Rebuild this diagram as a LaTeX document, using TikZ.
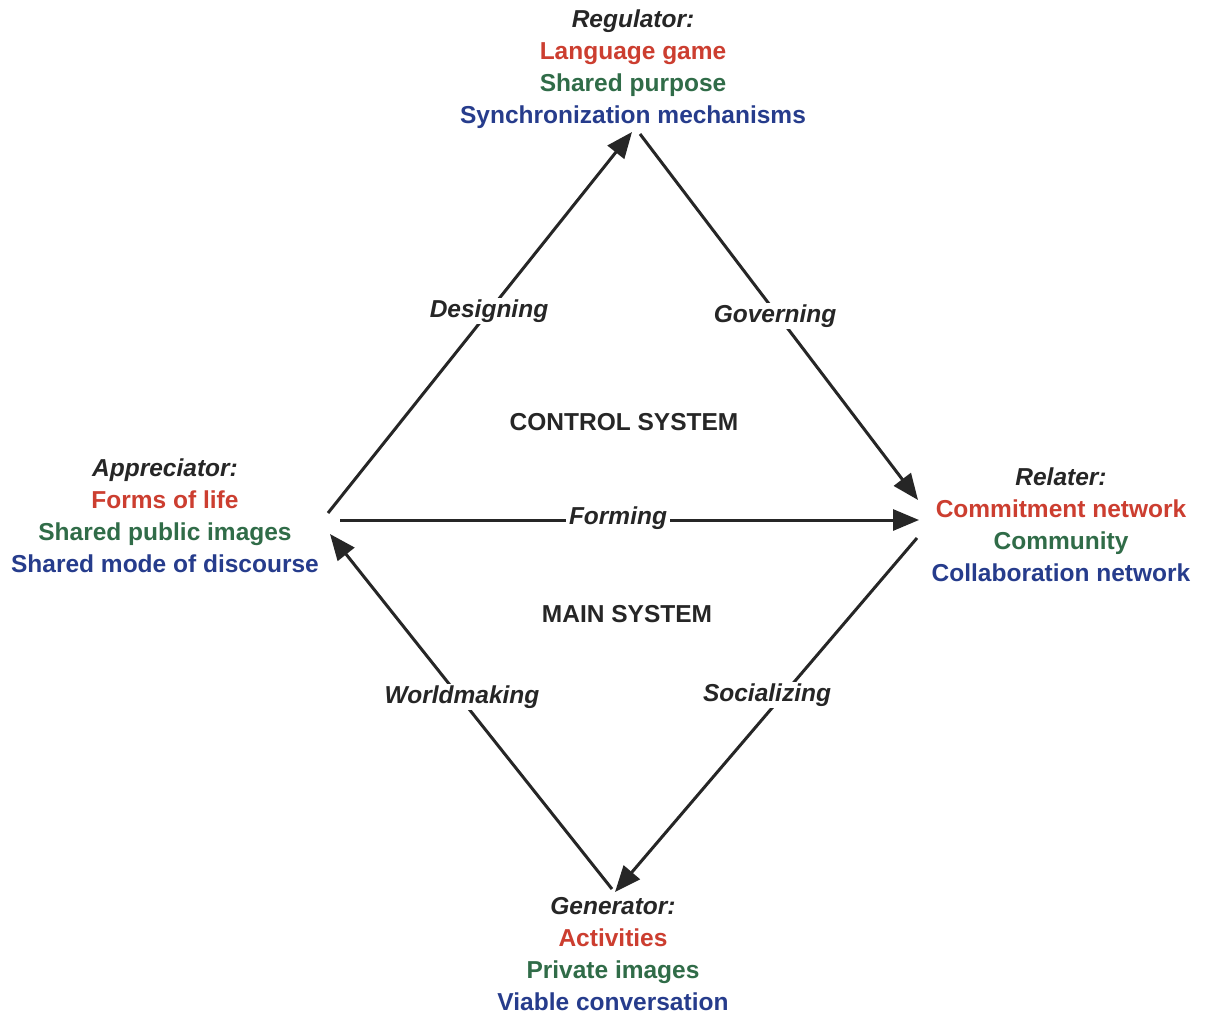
\documentclass[tikz,border=0pt]{standalone}
\usepackage{fontspec}
\setmainfont{Liberation Sans}
\usetikzlibrary{arrows.meta}
\definecolor{ink}{RGB}{38,38,38}
\definecolor{cred}{RGB}{204,62,48}
\definecolor{cgreen}{RGB}{48,108,72}
\definecolor{cblue}{RGB}{38,60,140}
\begin{document}
\begin{tikzpicture}[x=1pt,y=-1pt,
  every node/.style={font=\fontsize{24.5}{32}\selectfont\bfseries, text=ink, inner sep=1pt},
  role/.style={align=center},
  flow/.style={italic, fill=white, inner sep=2pt},
  italic/.style={font=\fontsize{24.5}{32}\selectfont\bfseries\itshape},
  sysname/.style={},
  link/.style={draw=ink, line width=3pt, -{Triangle[length=26pt,width=21pt]}}]
  \fill[white] (0,0) rectangle (1206,1014);
  \useasboundingbox (0,0) rectangle (1206,1014);

  % the four roles
  \node[role] (reg) at (633,69) {\textit{Regulator:}\\\textcolor{cred}{Language game}\\\textcolor{cgreen}{Shared purpose}\\\textcolor{cblue}{Synchronization mechanisms}};
  \node[role] (app) at (165,516) {\textit{Appreciator:}\\\textcolor{cred}{Forms of life}\\\textcolor{cgreen}{Shared public images}\\\textcolor{cblue}{Shared mode of discourse}};
  \node[role] (rel) at (1061,525) {\textit{Relater:}\\\textcolor{cred}{Commitment network}\\\textcolor{cgreen}{Community}\\\textcolor{cblue}{Collaboration network}};
  \node[role] (gen) at (613,954) {\textit{Generator:}\\\textcolor{cred}{Activities}\\\textcolor{cgreen}{Private images}\\\textcolor{cblue}{Viable conversation}};

  % end points of the connectors around the diamond
  \coordinate (aUp)  at (328,513);
  \coordinate (aIn)  at (330,534);
  \coordinate (aOut) at (340,520);
  \coordinate (rIn)  at (919,520);
  \coordinate (rUp)  at (918,500);
  \coordinate (rLow) at (917,538);
  \coordinate (tIn)  at (632,132);
  \coordinate (tOut) at (640,134);
  \coordinate (bIn)  at (615,892);
  \coordinate (bOut) at (612,889);

  % connectors
  \draw[link] (aUp) -- (tIn);
  \draw[link] (tOut) -- (rUp);
  \draw[link] (rLow) -- (bIn);
  \draw[link] (bOut) -- (aIn);
  \draw[link] (aOut) -- (rIn);

  % process labels, laid over the connectors
  \node[flow] (des) at (489,311) {Designing};
  \node[flow] (gov) at (775,316) {Governing};
  \node[flow] (wor) at (462,697) {Worldmaking};
  \node[flow] (soc) at (767,695) {Socializing};
  \node[flow, inner xsep=3pt] (frm) at (618,518) {Forming};

  % subsystems
  \node[sysname] (ctl) at (624,422) {CONTROL SYSTEM};
  \node[sysname] (mn)  at (627,614) {MAIN SYSTEM};
\end{tikzpicture}
\end{document}
